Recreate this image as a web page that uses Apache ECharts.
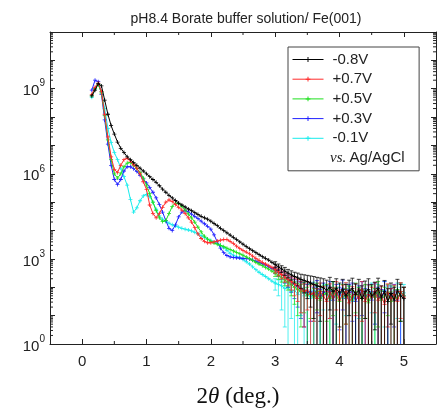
<!DOCTYPE html>
<html><head><meta charset="utf-8">
<script src="https://cdn.jsdelivr.net/npm/echarts@6/dist/echarts.min.js"></script>
<style>html,body{margin:0;padding:0;background:#fff}#c{width:437px;height:408px}</style>
</head><body><div id="c"></div>
<script>
// 2theta (deg.)
const X = [0.15,0.2,0.25,0.3,0.35,0.4,0.45,0.5,0.55,0.6,
0.65,0.7,0.75,0.8,0.85,0.9,0.95,1.0,1.05,1.1,
1.15,1.2,1.25,1.3,1.35,1.4,1.45,1.5,1.55,1.6,
1.65,1.7,1.75,1.8,1.85,1.9,1.95,2.0,2.05,2.1,
2.15,2.2,2.25,2.3,2.35,2.4,2.45,2.5,2.55,2.6,
2.65,2.7,2.75,2.8,2.85,2.9,2.95,3.0,3.05,3.1,
3.15,3.2,3.25,3.3,3.35,3.4,3.45,3.5,3.55,3.6,
3.65,3.7,3.75,3.8,3.85,3.9,3.95,4.0,4.05,4.1,
4.15,4.2,4.25,4.3,4.35,4.4,4.45,4.5,4.55,4.6,
4.65,4.7,4.75,4.8,4.85,4.9,4.95,5.0];

// log10(intensity) per series
const logI_m08 = [8.75,8.95,9.18,9.1,8.6,8.1,7.7,7.4,7.12,6.9,
6.75,6.6,6.5,6.4,6.3,6.2,6.1,6.0,5.9,5.8,
5.7,5.58,5.46,5.35,5.24,5.15,5.06,4.97,4.9,4.83,
4.76,4.7,4.63,4.57,4.5,4.45,4.4,4.33,4.25,4.17,
4.08,4.0,3.92,3.84,3.76,3.68,3.6,3.52,3.44,3.36,
3.29,3.22,3.15,3.08,3.02,2.96,2.88,2.8,2.72,2.65,
2.57,2.5,2.44,2.38,2.33,2.28,2.24,2.2,2.15,2.1,
2.05,2.02,1.98,1.9,2.0,1.85,1.95,1.8,1.92,1.7,
1.88,1.95,1.75,1.9,1.6,1.85,1.92,1.7,1.8,1.95,
1.65,1.85,1.5,1.78,1.55,1.9,1.7,1.6];
const logI_p07 = [8.8,9.05,9.2,8.9,8.1,7.3,6.6,6.15,6.05,6.3,
6.5,6.55,6.45,6.32,6.2,6.0,5.72,5.45,4.9,4.6,
4.45,4.6,4.82,5.0,5.08,5.02,4.92,4.82,4.72,4.6,
4.45,4.3,4.1,3.88,3.72,3.62,3.57,3.57,3.6,3.63,
3.66,3.68,3.68,3.62,3.54,3.45,3.37,3.3,3.24,3.18,
3.1,3.02,2.95,2.88,2.82,2.76,2.7,2.62,2.54,2.45,
2.36,2.28,2.2,2.12,2.05,1.95,1.85,1.9,1.75,1.8,
1.6,1.85,1.7,1.5,1.8,1.65,1.9,1.55,1.75,1.85,
1.45,1.7,1.8,1.6,1.9,1.5,1.75,1.65,1.85,1.55,
1.7,1.4,1.8,1.6,1.75,1.5,1.85,1.65];
const logI_p05 = [8.75,9.0,9.15,8.85,8.05,7.2,6.5,6.0,5.85,6.0,
6.25,6.38,6.4,6.3,6.18,6.05,5.85,5.6,5.3,5.0,
4.7,4.45,4.32,4.35,4.6,4.85,4.97,4.95,4.85,4.72,
4.58,4.45,4.3,4.12,3.95,3.8,3.7,3.62,3.56,3.52,
3.48,3.43,3.38,3.33,3.28,3.23,3.18,3.13,3.07,3.01,
2.95,2.88,2.82,2.76,2.7,2.64,2.57,2.5,2.42,2.34,
2.26,2.18,2.1,2.0,1.92,1.85,1.9,1.7,1.8,1.65,
1.85,1.55,1.75,1.8,1.6,1.9,1.7,1.5,1.8,1.65,
1.75,1.55,1.85,1.7,1.6,1.8,1.45,1.75,1.65,1.9,
1.55,1.7,1.8,1.5,1.75,1.6,1.85,1.7];
const logI_p03 = [8.95,9.3,9.25,8.8,7.9,7.05,6.3,5.8,5.62,5.8,
6.1,6.25,6.25,6.18,6.08,5.95,5.82,5.68,5.52,5.35,
5.15,4.92,4.65,4.35,4.08,4.0,4.2,4.48,4.65,4.7,
4.66,4.58,4.5,4.42,4.33,4.24,4.15,4.05,3.85,3.6,
3.38,3.22,3.12,3.07,3.05,3.04,3.03,3.02,3.01,3.0,
2.96,2.92,2.88,2.83,2.78,2.72,2.66,2.6,2.52,2.44,
2.35,2.27,2.18,2.1,2.02,1.95,1.9,1.8,1.85,1.7,
1.95,1.6,1.85,1.75,1.9,1.55,1.8,1.7,1.95,1.6,
1.8,1.85,1.5,1.75,1.9,1.65,1.8,1.55,1.85,1.7,
1.6,1.9,1.75,1.65,1.8,1.55,1.85,1.7];
const logI_m01 = [8.7,9.0,9.15,8.9,8.3,7.6,7.1,6.75,6.5,6.2,
5.9,5.6,5.1,4.65,4.8,5.05,5.22,5.27,5.2,5.0,
4.75,4.52,4.4,4.32,4.26,4.2,4.16,4.12,4.08,4.05,
4.02,3.99,3.94,3.88,3.82,3.76,3.7,3.65,3.6,3.55,
3.48,3.4,3.3,3.2,3.13,3.08,3.04,2.98,2.9,2.82,
2.72,2.62,2.53,2.45,2.38,2.3,2.22,2.15,2.1,2.05,
1.95,2.0,1.85,1.9,1.75,1.95,1.7,1.85,1.6,1.9,
1.75,1.65,1.85,1.8,1.55,1.9,1.7,1.8,1.6,1.85,
1.75,1.5,1.8,1.7,1.9,1.6,1.75,1.85,1.65,1.8,
1.55,1.9,1.7,1.75,1.6,1.85,1.7,1.8];

// error bars (log10 of upper / lower ends), from 2theta = 3.0 to 5.0; -1 = below axis
const ERR_X0 = 3.0;
const hi_m08 = [2.9,2.82,2.76,2.7,2.63,2.58,2.53,2.5,2.46,2.44,2.42,2.4,2.38,2.35,2.33,2.3,2.25,2.35,2.2,2.3,2.15,2.28,2.1,2.25,2.32,2.12,2.28,2.05,2.22,2.3,2.1,2.18,2.32,2.05,2.24,1.95,2.15,2.0,2.28,2.1,2.0];
const lo_m08 = [2.68,2.6,2.52,2.42,2.33,2.25,2.15,2.05,1.95,1.8,1.6,1.3,0.9,-1,0.8,-1,-1,1.2,-1,-1,0.6,-1,-1,1.0,-1,-1,-1,-1,0.9,-1,-1,0.5,-1,-1,-1,-1,0.7,-1,-1,0.8,-1];
const hi_p07 = [2.72,2.65,2.57,2.5,2.43,2.37,2.32,2.28,2.2,2.12,2.2,2.05,2.1,1.95,2.15,2.02,1.85,2.12,1.98,2.2,1.9,2.08,2.16,1.8,2.02,2.12,1.94,2.2,1.85,2.08,2.0,2.16,1.9,2.04,1.78,2.12,1.95,2.08,1.85,2.16,2.0];
const lo_p07 = [2.5,2.4,2.3,2.18,2.05,1.9,1.7,1.5,1.1,0.6,1.2,-1,0.8,-1,1.0,-1,-1,0.9,-1,1.2,-1,-1,0.7,-1,-1,1.0,-1,0.8,-1,-1,-1,1.1,-1,-1,-1,0.6,-1,-1,-1,0.9,-1];
const hi_p05 = [2.6,2.53,2.46,2.4,2.33,2.27,2.2,2.14,2.1,2.16,2.0,2.1,1.96,2.14,1.88,2.05,2.1,1.92,2.2,2.0,1.84,2.1,1.96,2.05,1.88,2.15,2.0,1.92,2.1,1.8,2.05,1.96,2.2,1.88,2.0,2.1,1.84,2.05,1.92,2.15,2.0];
const lo_p05 = [2.38,2.28,2.18,2.05,1.9,1.7,1.4,1.0,0.6,1.1,-1,0.9,-1,1.2,-1,-1,0.8,-1,1.0,-1,-1,-1,0.7,-1,-1,1.1,-1,-1,0.9,-1,-1,-1,0.6,-1,-1,1.0,-1,-1,-1,0.8,-1];
const hi_p03 = [2.7,2.62,2.55,2.47,2.4,2.33,2.27,2.22,2.18,2.16,2.1,2.14,2.0,2.24,1.92,2.15,2.05,2.2,1.88,2.1,2.0,2.25,1.92,2.1,2.15,1.82,2.05,2.2,1.96,2.1,1.86,2.15,2.0,1.92,2.2,2.05,1.96,2.1,1.86,2.15,2.0];
const lo_p03 = [2.48,2.38,2.28,2.15,2.0,1.82,1.6,1.3,0.9,0.6,-1,0.8,-1,1.1,-1,-1,-1,0.9,-1,-1,0.5,1.2,-1,-1,0.8,-1,-1,1.0,-1,-1,-1,0.7,-1,-1,1.1,-1,-1,0.6,-1,-1,-1];
const hi_m01 = [2.3,2.26,2.22,2.15,2.2,2.08,2.15,2.0,2.2,1.98,2.1,1.9,2.18,2.02,1.94,2.12,2.08,1.86,2.2,1.98,2.1,1.9,2.15,2.04,1.8,2.1,1.98,2.2,1.9,2.05,2.15,1.94,2.1,1.85,2.2,2.0,2.05,1.9,2.15,2.0,2.1];
const lo_m01 = [1.9,1.7,1.2,0.6,-1,0.9,-1,-1,1.0,-1,-1,-1,0.8,-1,-1,1.2,-1,-1,-1,0.7,-1,-1,1.0,-1,-1,-1,0.9,-1,-1,-1,1.1,-1,-1,-1,0.6,-1,-1,-1,0.9,-1,-1];

const seriesNames = ['-0.8V','+0.7V','+0.5V','+0.3V','-0.1V'];
const seriesColors = ['#000000','#ff2a2a','#1ee01e','#2020ff','#18ecec'];
const xTickLabels = [0,1,2,3,4,5];
const xMinorTicks = [0.5,1.5,2.5,3.5,4.5];
const yLabelExps = [0,3,6,9];
const yMinorMult = [2,3,4,5,6,7,8,9];

const X_MIN = -0.5, X_MAX = 5.5, Y_MIN = 0, Y_MAX = 11;
const defs = [
  {L: logI_m08, hi: hi_m08, lo: lo_m08},
  {L: logI_p07, hi: hi_p07, lo: lo_p07},
  {L: logI_p05, hi: hi_p05, lo: lo_p05},
  {L: logI_p03, hi: hi_p03, lo: lo_p03},
  {L: logI_m01, hi: hi_m01, lo: lo_m01}
];
const errStart = X.indexOf(ERR_X0);
const plus = 'path://M2,0H3V2H5V3H3V5H2V3H0V2H2Z';

const series = [];
const order = [4,3,2,1,0];
order.forEach((k, oi) => {
  const d = defs[k], color = seriesColors[k];
  series.push({
    type: 'custom', name: 'err' + k, silent: true, z: 2 + oi * 2, clip: true,
    data: d.hi.map((h, j) => [X[errStart + j], d.L[errStart + j], d.lo[j], h]),
    renderItem: function (params, api) {
      const x = api.value(0);
      const loV = api.value(2), hiV = Math.min(api.value(3), Y_MAX);
      const pH = api.coord([x, hiV]);
      const pL = api.coord([x, Math.max(loV, Y_MIN)]);
      const st = {stroke: color, lineWidth: 1, opacity: 0.75};
      const ch = [
        {type: 'line', shape: {x1: pH[0], y1: pH[1], x2: pL[0], y2: pL[1]}, style: st},
        {type: 'line', shape: {x1: pH[0] - 2, y1: pH[1], x2: pH[0] + 2, y2: pH[1]}, style: st}
      ];
      if (loV > Y_MIN) ch.push({type: 'line', shape: {x1: pL[0] - 2, y1: pL[1], x2: pL[0] + 2, y2: pL[1]}, style: st});
      return {type: 'group', children: ch};
    }
  });
  series.push({
    type: 'line', name: seriesNames[k], z: 3 + oi * 2,
    data: X.map((x, i) => [x, d.L[i]]),
    symbol: plus, symbolSize: 4, showSymbol: true,
    lineStyle: {width: 1, color: color}, itemStyle: {color: color},
    emphasis: {disabled: true}
  });
});

// minor ticks (axis decoration)
const yMinorVals = [];
for (let n = Y_MIN; n < Y_MAX; n++) yMinorMult.forEach(m => yMinorVals.push(n + Math.log10(m)));
series.push({
  type: 'custom', silent: true, z: 20, clip: false,
  data: xMinorTicks.map(v => [v, Y_MIN]),
  renderItem: function (p, api) {
    const v = api.value(0);
    const a = api.coord([v, Y_MIN]), b = api.coord([v, Y_MAX]);
    const st = {stroke: '#222', lineWidth: 1};
    return {type: 'group', children: [
      {type: 'line', shape: {x1: a[0], y1: a[1], x2: a[0], y2: a[1] - 3}, style: st},
      {type: 'line', shape: {x1: b[0], y1: b[1], x2: b[0], y2: b[1] + 3}, style: st}
    ]};
  }
});
series.push({
  type: 'custom', silent: true, z: 20, clip: false,
  data: yMinorVals.map(v => [X_MIN, v]),
  renderItem: function (p, api) {
    const v = api.value(1);
    const a = api.coord([X_MIN, v]), b = api.coord([X_MAX, v]);
    const st = {stroke: '#222', lineWidth: 1};
    return {type: 'group', children: [
      {type: 'line', shape: {x1: a[0], y1: a[1], x2: a[0] + 3, y2: a[1]}, style: st},
      {type: 'line', shape: {x1: b[0], y1: b[1], x2: b[0] - 3, y2: b[1]}, style: st}
    ]};
  }
});

const axLine = {show: true, onZero: false, lineStyle: {color: '#222', width: 1}};
const tick = {show: true, inside: true, length: 5, lineStyle: {color: '#222', width: 1}};
const option = {
  animation: false,
  backgroundColor: '#fff',
  grid: {left: 50, right: 1, top: 32, bottom: 64, containLabel: false},
  xAxis: [
    {type: 'value', min: X_MIN, max: X_MAX, position: 'bottom', axisLine: axLine,
     axisTick: Object.assign({customValues: xTickLabels}, tick), splitLine: {show: false},
     axisLabel: {customValues: xTickLabels, margin: 10, fontSize: 15, fontFamily: 'Liberation Sans', color: '#222'}},
    {type: 'value', min: X_MIN, max: X_MAX, position: 'top', axisLine: axLine,
     axisTick: Object.assign({customValues: xTickLabels}, tick), splitLine: {show: false}, axisLabel: {show: false}}
  ],
  yAxis: [
    {type: 'value', min: Y_MIN, max: Y_MAX, interval: 1, position: 'left', axisLine: axLine, axisTick: tick,
     splitLine: {show: false},
     axisLabel: {margin: 5, formatter: v => yLabelExps.includes(v) ? '{a|10}{b|' + v + '}' : '',
       rich: {a: {fontSize: 15, fontFamily: 'Liberation Sans', color: '#222', padding: [5, 0, 0, 0], verticalAlign: 'bottom'},
              b: {fontSize: 10, fontFamily: 'Liberation Sans', color: '#222', verticalAlign: 'top'}}}},
    {type: 'value', min: Y_MIN, max: Y_MAX, interval: 1, position: 'right', axisLine: axLine, axisTick: tick,
     splitLine: {show: false}, axisLabel: {show: false}}
  ],
  legend: {
    data: seriesNames, orient: 'vertical', left: 288, top: 47,
    padding: [5, 47, 25, 4], itemGap: 4.7, itemWidth: 31, itemHeight: 6,
    borderColor: '#444', borderWidth: 1, backgroundColor: '#fff', selectedMode: false,
    lineStyle: {width: 1}, itemStyle: {borderWidth: 0},
    textStyle: {fontSize: 15, fontFamily: 'Liberation Sans', color: '#222', padding: [0, 0, 0, 4]}
  },
  graphic: [
    {type: 'text', x: 246, y: 19, z: 100,
     style: {text: 'pH8.4 Borate buffer solution/ Fe(001)', font: '14px "Liberation Sans"', fill: '#222', align: 'center', verticalAlign: 'middle'}},
    {type: 'text', x: 238, y: 397, z: 100,
     style: {text: '{a|2}{b|θ}{a| (deg.)}', align: 'center', verticalAlign: 'middle',
       rich: {a: {fontSize: 23, fontFamily: 'Liberation Serif', fill: '#111'},
              b: {fontSize: 23, fontFamily: 'Liberation Serif', fontStyle: 'italic', fill: '#111'}}}},
    {type: 'text', x: 330, y: 158, z: 100,
     style: {text: '{i|vs.} {n|Ag/AgCl}', verticalAlign: 'middle',
       rich: {i: {fontSize: 15, fontFamily: 'Liberation Serif', fontStyle: 'italic', fill: '#222'},
              n: {fontSize: 15, fontFamily: 'Liberation Sans', fill: '#222'}}}}
  ],
  series: series
};
const chart = echarts.init(document.getElementById('c'));
chart.setOption(option);
</script></body></html>
